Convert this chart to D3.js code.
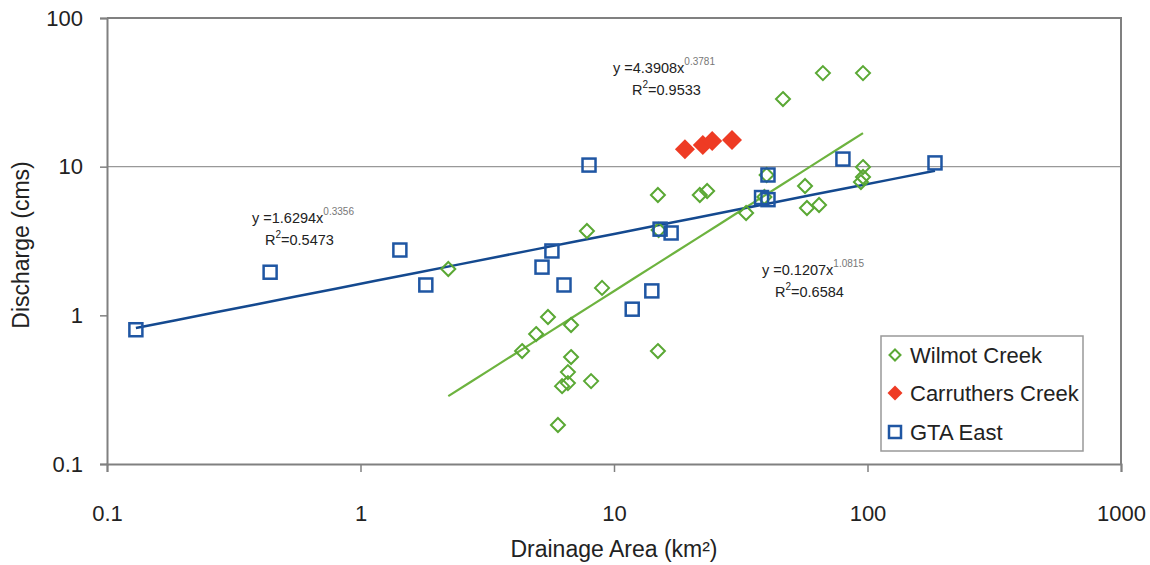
<!DOCTYPE html>
<html>
<head>
<meta charset="utf-8">
<script src="https://cdn.jsdelivr.net/npm/d3@7"></script>
<style>
  body { margin: 0; background: #fff; }
  svg text { font-family: "Liberation Sans", Arial, sans-serif; fill: #222; }
</style>
</head>
<body>
<svg id="chart" width="1150" height="565"></svg>
<script>
// drainage area (km2) / discharge (cms)
const wilmotArea = [2.22, 7.82, 14.9, 15.0, 21.8, 23.3, 8.97, 5.49, 4.93, 6.77, 4.34, 6.77, 6.58, 6.24, 6.58, 8.12, 14.9, 6.01,
                    66.7, 96.0, 46.4, 96.0, 96.0, 94.2, 56.7, 57.7, 64.4, 33.2, 40.0, 39.2];
const wilmotQ    = [2.05, 3.69, 6.45, 3.75, 6.45, 6.86, 1.53, 0.974, 0.748, 0.861, 0.575, 0.524, 0.415, 0.334, 0.35, 0.361, 0.575, 0.183,
                    42.6, 42.6, 28.5, 9.94, 8.52, 7.88, 7.41, 5.27, 5.52, 4.88, 8.79, 6.25];

const carrArea = [19.05, 22.4, 24.4, 29.2];
const carrQ    = [13.1, 14.0, 14.9, 15.1];

const gtaArea = [0.13, 0.44, 1.43, 1.81, 5.2, 5.69, 6.35, 7.97, 11.8, 14.1, 15.2, 16.8, 38.2, 40.5, 40.5, 80.0, 184.6];
const gtaQ    = [0.8, 1.95, 2.75, 1.6, 2.11, 2.71, 1.6, 10.25, 1.1, 1.46, 3.8, 3.58, 6.2, 6.0, 8.79, 11.25, 10.6];

// power trendlines y = a * x^b
const fitWilmot = { a: 0.1207, b: 1.0815, eq: "y =0.1207x", exp: "1.0815", r2: "=0.6584" };
const fitCarr   = { a: 4.3908, b: 0.3781, eq: "y =4.3908x", exp: "0.3781", r2: "=0.9533" };
const fitGta    = { a: 1.6294, b: 0.3356, eq: "y =1.6294x", exp: "0.3356", r2: "=0.5473" };

const xTicks = [0.1, 1, 10, 100, 1000];
const xTickLabels = ["0.1", "1", "10", "100", "1000"];
const yTicks = [0.1, 1, 10, 100];
const yTickLabels = ["0.1", "1", "10", "100"];

const seriesNames = ["Wilmot Creek", "Carruthers Creek", "GTA East"];

const green = "#5aa834", red = "#ee3b24", blue = "#1f56a3", lineBlue = "#14498f";

const svg = d3.select("#chart");
const mLeft = 107, mRight = 1121, mTop = 18, mBottom = 464;

const x = d3.scaleLog().domain([0.1, 1000]).range([mLeft, mRight]);
const y = d3.scaleLog().domain([0.1, 100]).range([mBottom, mTop]);

// grid line at 10 and frame
svg.append("line")
    .attr("x1", mLeft).attr("x2", mRight)
    .attr("y1", y(10)).attr("y2", y(10))
    .attr("stroke", "#999").attr("stroke-width", 1.2);

svg.append("path")
    .attr("d", `M${mLeft},${mTop}H${mRight}V${mBottom}`)
    .attr("fill", "none").attr("stroke", "#808080").attr("stroke-width", 2);

// axes
const xAxis = svg.append("g")
    .attr("transform", `translate(0,${mBottom})`)
    .call(d3.axisBottom(x).tickValues(xTicks).tickFormat((d, i) => xTickLabels[i]).tickSize(8).tickPadding(33));
const yAxis = svg.append("g")
    .attr("transform", `translate(${mLeft},0)`)
    .call(d3.axisLeft(y).tickValues(yTicks).tickFormat((d, i) => yTickLabels[i]).tickSize(7).tickPadding(17));

[xAxis, yAxis].forEach(g => {
    g.select(".domain").attr("stroke", "#808080").attr("stroke-width", 2);
    g.selectAll(".tick line").attr("stroke", "#808080").attr("stroke-width", 1.5);
    g.selectAll(".tick text").attr("font-size", 22).attr("fill", "#222")
        .style("font-family", "'Liberation Sans', Arial, sans-serif");
});

svg.append("text")
    .attr("x", (mLeft + mRight) / 2).attr("y", 557)
    .attr("text-anchor", "middle").attr("font-size", 23)
    .text("Drainage Area (km²)");

svg.append("text")
    .attr("transform", "translate(29,245) rotate(-90)")
    .attr("text-anchor", "middle").attr("font-size", 23)
    .text("Discharge (cms)");

// trendlines
function trend(fit, xs) {
    const ext = d3.extent(xs);
    const pts = d3.range(0, 21).map(i => {
        const xv = Math.pow(10, Math.log10(ext[0]) + i / 20 * (Math.log10(ext[1]) - Math.log10(ext[0])));
        return [xv, fit.a * Math.pow(xv, fit.b)];
    });
    return d3.line().x(d => x(d[0])).y(d => y(d[1]))(pts);
}

svg.append("path").attr("d", trend(fitWilmot, wilmotArea))
    .attr("fill", "none").attr("stroke", "#6db33f").attr("stroke-width", 2.2);
svg.append("path").attr("d", trend(fitGta, gtaArea))
    .attr("fill", "none").attr("stroke", lineBlue).attr("stroke-width", 2.5);

// markers
const diamond = s => `M0,${-s}L${s},0L0,${s}L${-s},0Z`;

svg.append("g").selectAll("path")
    .data(d3.zip(wilmotArea, wilmotQ))
    .join("path")
    .attr("d", diamond(7))
    .attr("transform", d => `translate(${x(d[0])},${y(d[1])})`)
    .attr("fill", "none").attr("stroke", green).attr("stroke-width", 2);

svg.append("g").selectAll("rect")
    .data(d3.zip(gtaArea, gtaQ))
    .join("rect")
    .attr("x", d => x(d[0]) - 6.5).attr("y", d => y(d[1]) - 6.5)
    .attr("width", 13).attr("height", 13)
    .attr("fill", "none").attr("stroke", blue).attr("stroke-width", 2.5);

svg.append("g").selectAll("path")
    .data(d3.zip(carrArea, carrQ))
    .join("path")
    .attr("d", diamond(10))
    .attr("transform", d => `translate(${x(d[0])},${y(d[1])})`)
    .attr("fill", red);

// trendline equations
function equation(fit, x0, y0, x1) {
    const t = svg.append("text").attr("x", x0).attr("y", y0).attr("font-size", 14.5).attr("fill", "#333");
    t.append("tspan").text(fit.eq);
    t.append("tspan").attr("dy", -8).attr("font-size", 10).attr("fill", "#777").text(fit.exp);
    const r = svg.append("text").attr("x", x1).attr("y", y0 + 22).attr("font-size", 14.5).attr("fill", "#333");
    r.append("tspan").text("R");
    r.append("tspan").attr("dy", -7).attr("font-size", 10).text("2");
    r.append("tspan").attr("dy", 7).text(fit.r2);
}
equation(fitCarr, 613, 73, 632);
equation(fitGta, 252, 223, 265);
equation(fitWilmot, 762, 275, 775);

// legend
const lg = svg.append("g").attr("transform", "translate(881,336)");
lg.append("rect").attr("width", 202).attr("height", 115)
    .attr("fill", "#fff").attr("stroke", "#999").attr("stroke-width", 1.5);
const rows = [19, 57, 96];
lg.append("path").attr("d", diamond(5.5)).attr("transform", `translate(14,${rows[0]})`)
    .attr("fill", "none").attr("stroke", green).attr("stroke-width", 2);
lg.append("path").attr("d", diamond(7.5)).attr("transform", `translate(14,${rows[1]})`)
    .attr("fill", red);
lg.append("rect").attr("x", 8).attr("y", rows[2] - 6).attr("width", 12).attr("height", 12)
    .attr("fill", "none").attr("stroke", blue).attr("stroke-width", 2.5);
lg.selectAll("text.item").data(seriesNames).join("text")
    .attr("class", "item")
    .attr("x", 29).attr("y", (d, i) => rows[i])
    .attr("dy", "0.36em").attr("font-size", 22)
    .text(d => d);
</script>
</body>
</html>
